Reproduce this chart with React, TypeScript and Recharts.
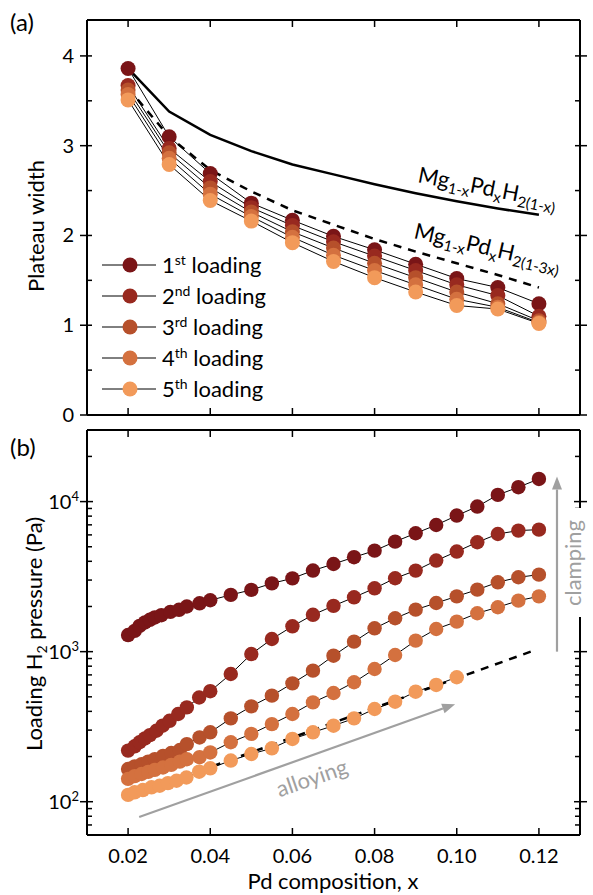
import React from 'react';
import { LineChart, Line, XAxis, YAxis, ReferenceLine, Legend } from 'recharts';

const FONT = 'Lato, "Open Sans", sans-serif';

// ---------- Panel (a): plateau width ----------
const compA = [0.02, 0.03, 0.04, 0.05, 0.06, 0.07, 0.08, 0.09, 0.1, 0.11, 0.12];
const widthL1 = [3.86, 3.1, 2.69, 2.36, 2.17, 1.99, 1.84, 1.68, 1.52, 1.42, 1.24];
const widthL2 = [3.67, 2.97, 2.6, 2.31, 2.11, 1.93, 1.77, 1.61, 1.45, 1.33, 1.1];
const widthL3 = [3.62, 2.92, 2.53, 2.26, 2.04, 1.86, 1.69, 1.53, 1.37, 1.24, 1.05];
const widthL4 = [3.57, 2.86, 2.46, 2.21, 1.98, 1.78, 1.61, 1.45, 1.29, 1.2, 1.03];
const widthL5 = [3.51, 2.79, 2.39, 2.16, 1.92, 1.71, 1.53, 1.37, 1.22, 1.18, 1.02];
const theoryFull = [3.86, 3.38, 3.12, 2.94, 2.79, 2.68, 2.57, 2.47, 2.38, 2.3, 2.23];
const theoryReduced = [3.64, 3.1, 2.73, 2.49, 2.28, 2.12, 1.96, 1.82, 1.69, 1.56, 1.42];

// ---------- Panel (b): loading pressure ----------
const mainComp = [0.045, 0.05, 0.055, 0.06, 0.065, 0.07, 0.075, 0.08, 0.085, 0.09, 0.095, 0.1, 0.105, 0.11, 0.115, 0.12];
const compB1 = [0.02, 0.0216, 0.0228, 0.0241, 0.0253, 0.0265, 0.0281, 0.0303, 0.0324, 0.0343, 0.0374, 0.04, ...mainComp];
const presB1 = [1290, 1375, 1485, 1565, 1630, 1690, 1750, 1840, 1900, 2000, 2100, 2200, 2390, 2580, 2850, 3080, 3470, 3840, 4260, 4710, 5410, 6150, 6980, 8070, 9270, 11080, 12470, 14160];
const compB2 = [0.02, 0.0216, 0.0228, 0.0241, 0.0253, 0.0269, 0.0284, 0.0301, 0.0322, 0.0343, 0.0373, 0.04, ...mainComp];
const presB2 = [219, 234, 249, 264, 278, 297, 321, 346, 384, 425, 495, 545, 710, 964, 1214, 1475, 1760, 2020, 2303, 2643, 3084, 3469, 4046, 4645, 5358, 6084, 6410, 6503];
const compB3 = [0.02, 0.0216, 0.0233, 0.0249, 0.0265, 0.0285, 0.0305, 0.0326, 0.0343, 0.0374, 0.04, ...mainComp];
const presB3 = [165, 172, 178, 185, 192, 202, 211, 221, 242, 268, 290, 359, 432, 509, 615, 747, 940, 1166, 1431, 1669, 1905, 2110, 2337, 2589, 2898, 3131, 3260];
const compB4 = [0.02, 0.0216, 0.0233, 0.0249, 0.0265, 0.0285, 0.0305, 0.0326, 0.0343, 0.0374, 0.04, ...mainComp];
const presB4 = [142, 148, 153, 158, 163, 169, 176, 185, 192, 198, 213, 249, 283, 329, 384, 459, 530, 625, 766, 950, 1184, 1416, 1585, 1803, 1977, 2188, 2337];
const compB5 = [0.02, 0.0216, 0.0236, 0.0257, 0.0277, 0.0297, 0.0318, 0.0342, 0.0373, 0.04, 0.045, 0.05, 0.055, 0.06, 0.065, 0.07, 0.075, 0.08, 0.085, 0.09, 0.095, 0.1];
const presB5 = [111, 115.5, 119.6, 124.7, 127.8, 133, 138, 145, 158.5, 167, 188, 208, 227, 262, 290, 321, 359, 415, 464, 541, 600, 675];
const fitComp = [0.02, 0.118];
const fitPres = [108, 1000];

const loadColors = ['#7a1517', '#98291f', '#b6502b', '#d4713f', '#f29a5a'];
const loadNums = ['1', '2', '3', '4', '5'];
const loadSup = ['st', 'nd', 'rd', 'th', 'th'];

const xTicks = [0.02, 0.04, 0.06, 0.08, 0.1, 0.12];
const yTicksA = [0, 0.5, 1, 1.5, 2, 2.5, 3, 3.5, 4];
const yTicksB = [60, 70, 80, 90, 100, 200, 300, 400, 500, 600, 700, 800, 900, 1000, 2000, 3000, 4000, 5000, 6000, 7000, 8000, 9000, 10000, 20000, 30000];

const zip = (xs: number[], ys: number[]) => xs.map((x, i) => ({ x, y: ys[i] }));
const seriesA = [widthL1, widthL2, widthL3, widthL4, widthL5].map((w) => zip(compA, w));
const seriesB = [
  zip(compB1, presB1),
  zip(compB2, presB2),
  zip(compB3, presB3),
  zip(compB4, presB4),
  zip(compB5, presB5),
];

const axisLine = { stroke: '#000', strokeWidth: 2 };

// ---------- tick renderers ----------
const BottomTick = (props: any) => {
  const { x, y, payload, showLabel } = props;
  return (
    <g>
      <line x1={x} x2={x} y1={y - 7} y2={y} stroke="#000" strokeWidth={1.5} />
      {showLabel && (
        <text x={x} y={y + 21} dy="0.35em" textAnchor="middle" fontSize={20} fontFamily={FONT} fill="#000">
          {Number(payload.value).toFixed(2)}
        </text>
      )}
    </g>
  );
};

const TopTick = (props: any) => {
  const { x, y } = props;
  return <line x1={x} x2={x} y1={y} y2={y + 7} stroke="#000" strokeWidth={1.5} />;
};

const LinTick = (props: any) => {
  const { x, y, payload, side } = props;
  const v = payload.value;
  const major = Number.isInteger(v);
  if (side === 'right') {
    return <line x1={x - 5} x2={major ? x + 7 : x} y1={y} y2={y} stroke="#000" strokeWidth={1.5} />;
  }
  return (
    <g>
      <line x1={major ? x - 7 : x} x2={x + 5} y1={y} y2={y} stroke="#000" strokeWidth={1.5} />
      {major && (
        <text x={x - 13} y={y} dy="0.35em" textAnchor="end" fontSize={20} fontFamily={FONT} fill="#000">
          {v}
        </text>
      )}
    </g>
  );
};

const LogTick = (props: any) => {
  const { x, y, payload, side } = props;
  const v = payload.value;
  const e = Math.log10(v);
  const major = Math.abs(e - Math.round(e)) < 1e-6;
  if (side === 'right') {
    return <line x1={major ? x - 6 : x - 5} x2={major ? x + 7 : x} y1={y} y2={y} stroke="#000" strokeWidth={1.5} />;
  }
  return (
    <g>
      <line x1={major ? x - 7 : x} x2={major ? x + 6 : x + 5} y1={y} y2={y} stroke="#000" strokeWidth={1.5} />
      {major && (
        <text x={x - 8} y={y} dy="0.35em" textAnchor="end" fontSize={20} fontFamily={FONT} fill="#000">
          10
          <tspan dy={-8} fontSize={13}>
            {Math.round(e)}
          </tspan>
        </text>
      )}
    </g>
  );
};

const Arrow = (p: any) => {
  const { x1, y1, x2, y2 } = p;
  if ([x1, y1, x2, y2].some((v) => v === undefined || isNaN(v))) return null;
  const ang = Math.atan2(y2 - y1, x2 - x1);
  const L = 13;
  const Wd = 5;
  const bx = x2 - L * Math.cos(ang);
  const by = y2 - L * Math.sin(ang);
  const pts = `${x2},${y2} ${bx + Wd * Math.sin(ang)},${by - Wd * Math.cos(ang)} ${bx - Wd * Math.sin(ang)},${by + Wd * Math.cos(ang)}`;
  return (
    <g>
      <line x1={x1} y1={y1} x2={bx} y2={by} stroke="#a0a0a0" strokeWidth={2.2} />
      <polygon points={pts} fill="#a0a0a0" />
    </g>
  );
};

const LegendA = () => (
  <svg width={240} height={165} style={{ display: 'block', overflow: 'visible' }}>
    {loadColors.map((c, i) => (
      <g key={i} transform={`translate(0, ${14 + i * 31})`}>
        <line x1={7} x2={61} y1={0} y2={0} stroke="#000" strokeWidth={1} />
        <circle cx={35} cy={0} r={7.5} fill={c} />
        <text x={67} y={0} dy="0.35em" fontSize={22} fontFamily={FONT} fill="#000">
          {loadNums[i]}
          <tspan dy={-8} fontSize={14}>
            {loadSup[i]}
          </tspan>
          <tspan dy={8} fontSize={22}>
            {' loading'}
          </tspan>
        </text>
      </g>
    ))}
  </svg>
);

const ChemLabel = ({ x, y, angle, last }: any) => (
  <text x={x} y={y} transform={`rotate(${angle} ${x} ${y})`} fontSize={22} fontFamily={FONT} fill="#000">
    Mg
    <tspan dy={5} fontSize={15}>1-x</tspan>
    <tspan dy={-5} fontSize={22}>Pd</tspan>
    <tspan dy={5} fontSize={15}>x</tspan>
    <tspan dy={-5} fontSize={22}>H</tspan>
    <tspan dy={5} fontSize={15}>{last}</tspan>
  </text>
);

export default function App() {
  return (
    <div style={{ position: 'absolute', left: 0, top: 0, width: 593, height: 895, background: '#fff', overflow: 'hidden' }}>
      {/* Panel (a) */}
      <div style={{ position: 'absolute', left: 0, top: 0 }}>
        <LineChart width={593} height={430} margin={{ top: 19, right: 12, bottom: 14, left: 86 }}>
          <XAxis xAxisId="b" dataKey="x" type="number" domain={[0.01, 0.13]} allowDataOverflow ticks={xTicks} interval={0}
            height={1} tickSize={0} tickMargin={0} tickLine={false} axisLine={axisLine} tick={<BottomTick showLabel={false} />} />
          <XAxis xAxisId="t" orientation="top" dataKey="x" type="number" domain={[0.01, 0.13]} allowDataOverflow ticks={xTicks} interval={0}
            height={1} tickSize={0} tickMargin={0} tickLine={false} axisLine={axisLine} tick={<TopTick />} />
          <YAxis yAxisId="l" type="number" domain={[0, 4.4]} allowDataOverflow ticks={yTicksA} interval={0}
            width={1} tickSize={0} tickMargin={0} tickLine={false} axisLine={axisLine} tick={<LinTick side="left" />} />
          <YAxis yAxisId="r" orientation="right" type="number" domain={[0, 4.4]} allowDataOverflow ticks={yTicksA} interval={0}
            width={1} tickSize={0} tickMargin={0} tickLine={false} axisLine={axisLine} tick={<LinTick side="right" />} />
          <Line xAxisId="b" yAxisId="l" data={zip(compA, theoryFull)} dataKey="y" stroke="#000" strokeWidth={2.5}
            dot={false} activeDot={false} legendType="none" isAnimationActive={false} />
          <Line xAxisId="b" yAxisId="l" data={zip(compA, theoryReduced)} dataKey="y" stroke="#000" strokeWidth={2.5}
            strokeDasharray="8 7" dot={false} activeDot={false} legendType="none" isAnimationActive={false} />
          {seriesA.map((d, i) => (
            <Line key={i} xAxisId="b" yAxisId="l" data={d} dataKey="y" name={`${loadNums[i]}${loadSup[i]} loading`}
              stroke="#000" strokeWidth={1} dot={{ r: 7.5, fill: loadColors[i], stroke: 'none' }} activeDot={false}
              isAnimationActive={false} />
          ))}
          <Legend content={<LegendA />} layout="horizontal" verticalAlign="middle" align="center"
            wrapperStyle={{ left: 95, top: 251, width: 240, height: 165 }} />
        </LineChart>
      </div>

      {/* Panel (b) */}
      <div style={{ position: 'absolute', left: 0, top: 420 }}>
        <LineChart width={593} height={475} margin={{ top: 9, right: 12, bottom: 59, left: 86 }}>
          <XAxis xAxisId="b" dataKey="x" type="number" domain={[0.01, 0.13]} allowDataOverflow ticks={xTicks} interval={0}
            height={1} tickSize={0} tickMargin={0} tickLine={false} axisLine={axisLine} tick={<BottomTick showLabel />} />
          <XAxis xAxisId="t" orientation="top" dataKey="x" type="number" domain={[0.01, 0.13]} allowDataOverflow ticks={xTicks} interval={0}
            height={1} tickSize={0} tickMargin={0} tickLine={false} axisLine={axisLine} tick={<TopTick />} />
          <YAxis yAxisId="l" type="number" scale="log" domain={[60, 30000]} allowDataOverflow ticks={yTicksB} interval={0}
            width={1} tickSize={0} tickMargin={0} tickLine={false} axisLine={axisLine} tick={<LogTick side="left" />} />
          <YAxis yAxisId="r" orientation="right" type="number" scale="log" domain={[60, 30000]} allowDataOverflow ticks={yTicksB} interval={0}
            width={1} tickSize={0} tickMargin={0} tickLine={false} axisLine={axisLine} tick={<LogTick side="right" />} />
          {seriesB.map((d, i) => (
            <Line key={i} xAxisId="b" yAxisId="l" data={d} dataKey="y" stroke="#000" strokeWidth={1}
              dot={{ r: 7.2, fill: loadColors[i], stroke: 'none' }} activeDot={false} isAnimationActive={false} />
          ))}
          <Line xAxisId="b" yAxisId="l" data={zip(fitComp, fitPres)} dataKey="y" stroke="#000" strokeWidth={2.5}
            strokeDasharray="8 7" dot={false} activeDot={false} isAnimationActive={false} />
          <ReferenceLine xAxisId="b" yAxisId="l" segment={[{ x: 0.0227, y: 79 }, { x: 0.0996, y: 447 }]} shape={<Arrow />} ifOverflow="visible" />
          <ReferenceLine xAxisId="b" yAxisId="l" segment={[{ x: 0.1244, y: 1000 }, { x: 0.1244, y: 14700 }]} shape={<Arrow />} ifOverflow="visible" />
        </LineChart>
      </div>

      {/* Text overlay */}
      <svg width={593} height={895} style={{ position: 'absolute', left: 0, top: 0, pointerEvents: 'none' }}>
        <text x={10} y={31} fontSize={24} fontFamily={FONT} fill="#000">(a)</text>
        <text x={10} y={456} fontSize={24} fontFamily={FONT} fill="#000">(b)</text>
        <text x={44} y={226} transform="rotate(-90 44 226)" textAnchor="middle" fontSize={22} fontFamily={FONT} fill="#000">
          Plateau width
        </text>
        <text x={42} y={634} transform="rotate(-90 42 634)" textAnchor="middle" fontSize={22} fontFamily={FONT} fill="#000">
          Loading H
          <tspan dy={5} fontSize={14}>2</tspan>
          <tspan dy={-5} fontSize={22}> pressure (Pa)</tspan>
        </text>
        <text x={333} y={889} textAnchor="middle" fontSize={22} fontFamily={FONT} fill="#000">Pd composition, x</text>
        <ChemLabel x={417} y={182} angle={11} last="2(1-x)" />
        <ChemLabel x={413} y={238} angle={13} last="2(1-3x)" />
        <text x={312} y={778} dy="0.35em" textAnchor="middle" transform="rotate(-19 312 778)" fontSize={22} fontFamily={FONT} fill="#a0a0a0">
          alloying
        </text>
        <rect x={564} y={508} width={20} height={109} fill="#fff" />
        <text x={573} y={563} dy="0.35em" textAnchor="middle" transform="rotate(-90 573 563)" fontSize={22} fontFamily={FONT} fill="#a0a0a0">
          clamping
        </text>
      </svg>
    </div>
  );
}
